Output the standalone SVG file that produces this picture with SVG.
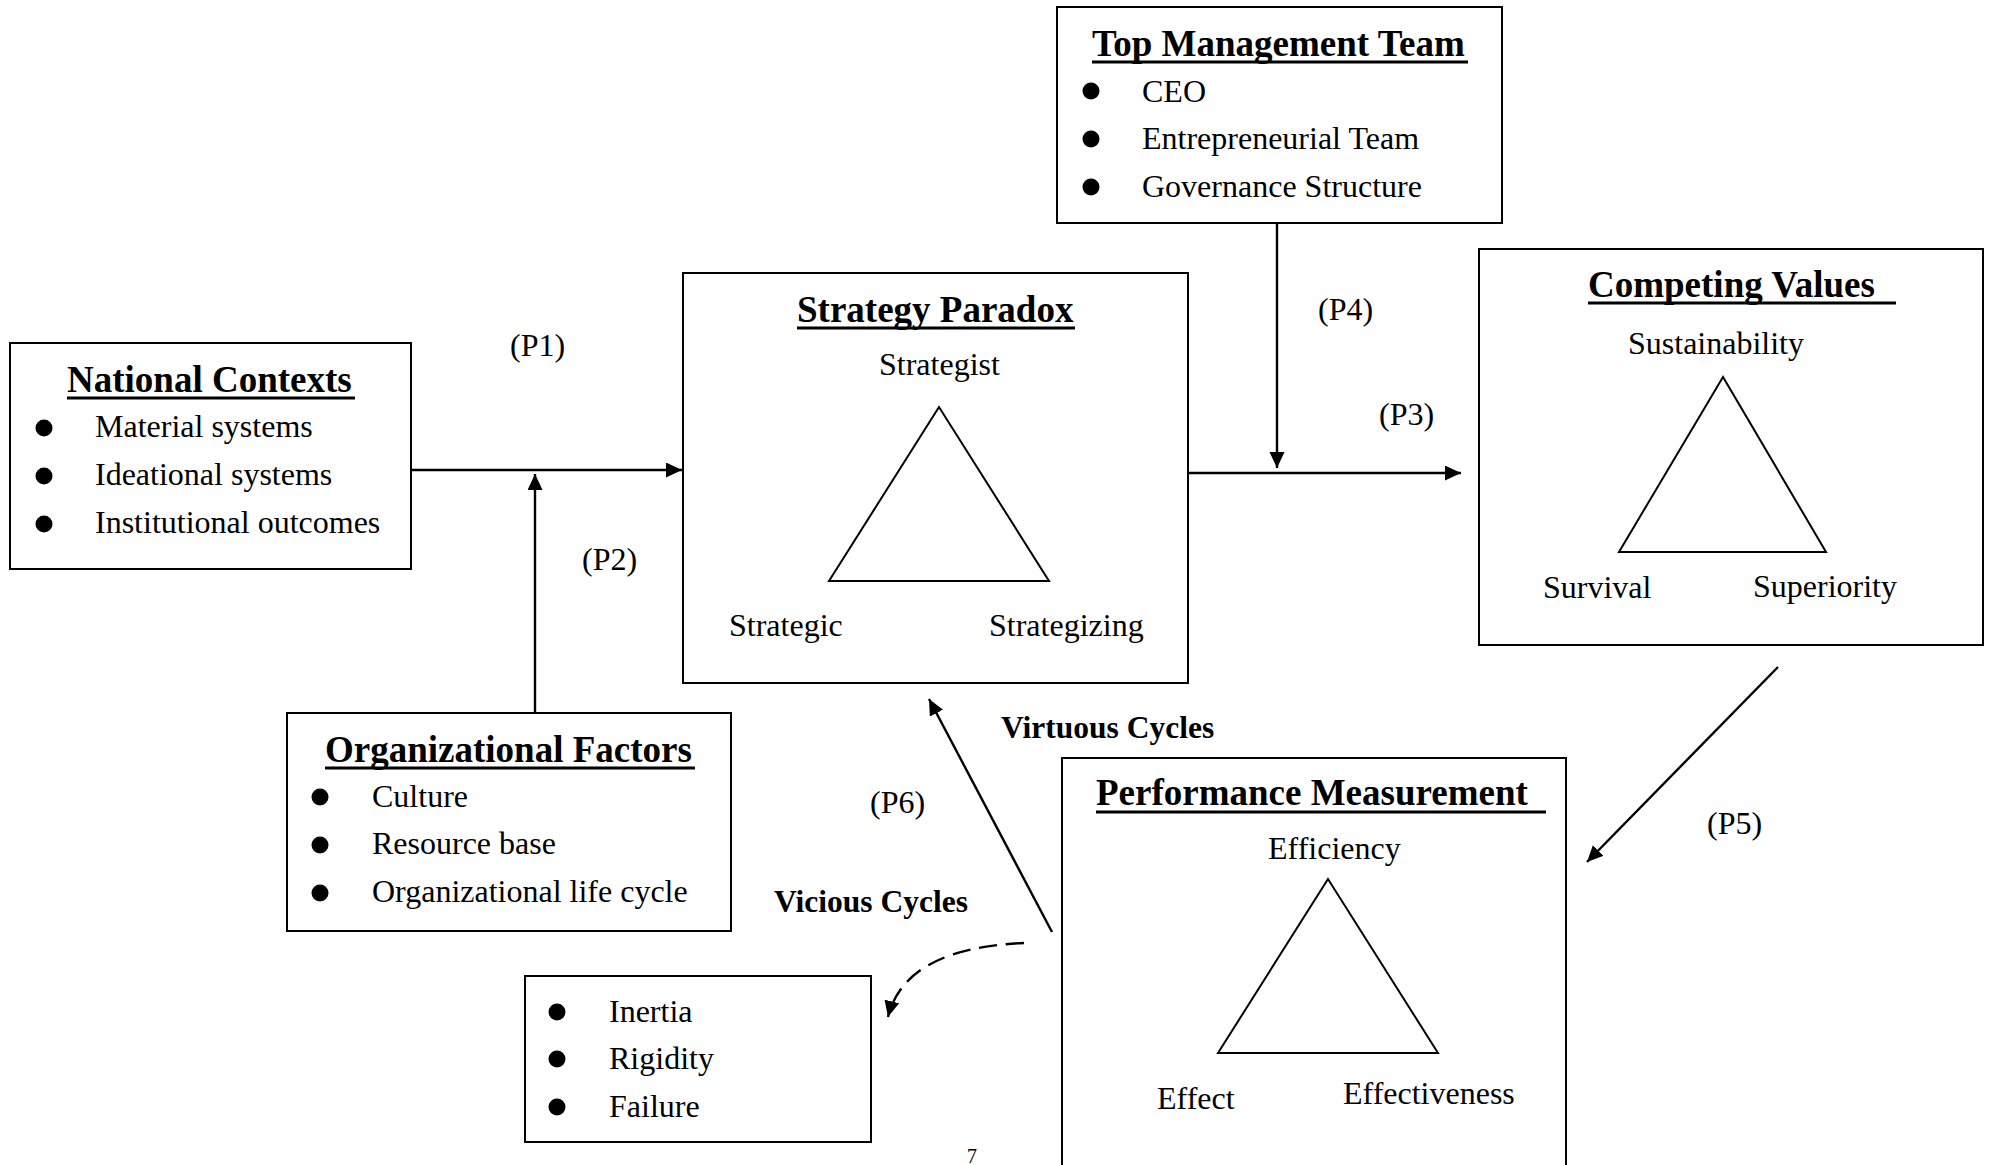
<svg xmlns="http://www.w3.org/2000/svg" width="1993" height="1165" viewBox="0 0 1993 1165">
<style>
  text { font-family: "Liberation Serif", "Times New Roman", serif; fill: #000; }
  .title { font-size: 37px; font-weight: bold; }
  .body { font-size: 32px; }
  .lab { font-size: 32px; }
  .cyc { font-size: 31.5px; font-weight: bold; }
  .box { fill: #fff; stroke: #000; stroke-width: 2; }
  .tri { fill: none; stroke: #000; stroke-width: 2; }
  .ul { stroke: #000; stroke-width: 3; }
  .conn { fill: none; stroke: #000; stroke-width: 2.4; }
  .dash { stroke-dasharray: 18 9; }
</style>
<defs>
  <marker id="ah" markerUnits="userSpaceOnUse" markerWidth="18" markerHeight="16" refX="16" refY="7.5" orient="auto">
    <path d="M0,0 L16,7.5 L0,15 z" fill="#000"/>
  </marker>
</defs>
<rect width="1993" height="1165" fill="#fff"/>

<g id="connectors">
  <line class="conn" x1="412" y1="470" x2="682" y2="470" marker-end="url(#ah)"/>
  <line class="conn" x1="535" y1="713" x2="535" y2="474" marker-end="url(#ah)"/>
  <line class="conn" x1="1189" y1="473" x2="1461" y2="473" marker-end="url(#ah)"/>
  <line class="conn" x1="1277" y1="224" x2="1277" y2="468" marker-end="url(#ah)"/>
  <line class="conn" x1="1778" y1="667" x2="1587" y2="862" marker-end="url(#ah)"/>
  <line class="conn" x1="1052" y1="932" x2="929" y2="699" marker-end="url(#ah)"/>
  <path class="conn dash" d="M1024,943 Q905,948 888,1017" marker-end="url(#ah)"/>
</g>

<g id="labels">
  <text class="lab" x="510" y="356">(P1)</text>
  <text class="lab" x="582" y="570">(P2)</text>
  <text class="lab" x="1379" y="425">(P3)</text>
  <text class="lab" x="1318" y="320">(P4)</text>
  <text class="lab" x="1707" y="834">(P5)</text>
  <text class="lab" x="870" y="813">(P6)</text>
  <text class="cyc" x="1001" y="738">Virtuous Cycles</text>
  <text class="cyc" x="774" y="912">Vicious Cycles</text>
  <text x="967" y="1163" style="font-size:20px">7</text>
</g>

<g id="top-management-team">
  <rect class="box" x="1057" y="7" width="445" height="216"/>
  <text class="title" x="1092" y="56">Top Management Team</text>
  <line class="ul" x1="1092" y1="62" x2="1468" y2="62"/>
  <circle cx="1091" cy="91" r="8.5"/>
  <text class="body" x="1142" y="102">CEO</text>
  <circle cx="1091" cy="139" r="8.5"/>
  <text class="body" x="1142" y="149">Entrepreneurial Team</text>
  <circle cx="1091" cy="187" r="8.5"/>
  <text class="body" x="1142" y="197">Governance Structure</text>
</g>

<g id="national-contexts">
  <rect class="box" x="10" y="343" width="401" height="226"/>
  <text class="title" x="67" y="392">National Contexts</text>
  <line class="ul" x1="67" y1="398" x2="355" y2="398"/>
  <circle cx="44" cy="428" r="8.5"/>
  <text class="body" x="95" y="437">Material systems</text>
  <circle cx="44" cy="476" r="8.5"/>
  <text class="body" x="95" y="485">Ideational systems</text>
  <circle cx="44" cy="524" r="8.5"/>
  <text class="body" x="95" y="533">Institutional outcomes</text>
</g>

<g id="strategy-paradox">
  <rect class="box" x="683" y="273" width="505" height="410"/>
  <text class="title" x="797" y="322">Strategy Paradox</text>
  <line class="ul" x1="797" y1="328" x2="1075" y2="328"/>
  <text class="body" x="879" y="375">Strategist</text>
  <polygon class="tri" points="939,407 829,581 1049,581"/>
  <text class="body" x="729" y="636">Strategic</text>
  <text class="body" x="989" y="636">Strategizing</text>
</g>

<g id="competing-values">
  <rect class="box" x="1479" y="249" width="504" height="396"/>
  <text class="title" x="1588" y="297">Competing Values</text>
  <line class="ul" x1="1588" y1="303" x2="1896" y2="303"/>
  <text class="body" x="1628" y="354">Sustainability</text>
  <polygon class="tri" points="1723,377 1619,552 1826,552"/>
  <text class="body" x="1543" y="598">Survival</text>
  <text class="body" x="1753" y="597">Superiority</text>
</g>

<g id="organizational-factors">
  <rect class="box" x="287" y="713" width="444" height="218"/>
  <text class="title" x="325" y="762">Organizational Factors</text>
  <line class="ul" x1="325" y1="768" x2="695" y2="768"/>
  <circle cx="320" cy="797" r="8.5"/>
  <text class="body" x="372" y="807">Culture</text>
  <circle cx="320" cy="845" r="8.5"/>
  <text class="body" x="372" y="854">Resource base</text>
  <circle cx="320" cy="893" r="8.5"/>
  <text class="body" x="372" y="902">Organizational life cycle</text>
</g>

<g id="vicious-outcomes">
  <rect class="box" x="525" y="976" width="346" height="166"/>
  <circle cx="557" cy="1012" r="8.5"/>
  <text class="body" x="609" y="1022">Inertia</text>
  <circle cx="557" cy="1059" r="8.5"/>
  <text class="body" x="609" y="1069">Rigidity</text>
  <circle cx="557" cy="1107" r="8.5"/>
  <text class="body" x="609" y="1117">Failure</text>
</g>

<g id="performance-measurement">
  <rect class="box" x="1062" y="758" width="504" height="460"/>
  <text class="title" x="1096" y="805">Performance Measurement</text>
  <line class="ul" x1="1096" y1="812" x2="1546" y2="812"/>
  <text class="body" x="1268" y="859">Efficiency</text>
  <polygon class="tri" points="1328,879 1218,1053 1438,1053"/>
  <text class="body" x="1157" y="1109">Effect</text>
  <text class="body" x="1343" y="1104">Effectiveness</text>
</g>
</svg>
